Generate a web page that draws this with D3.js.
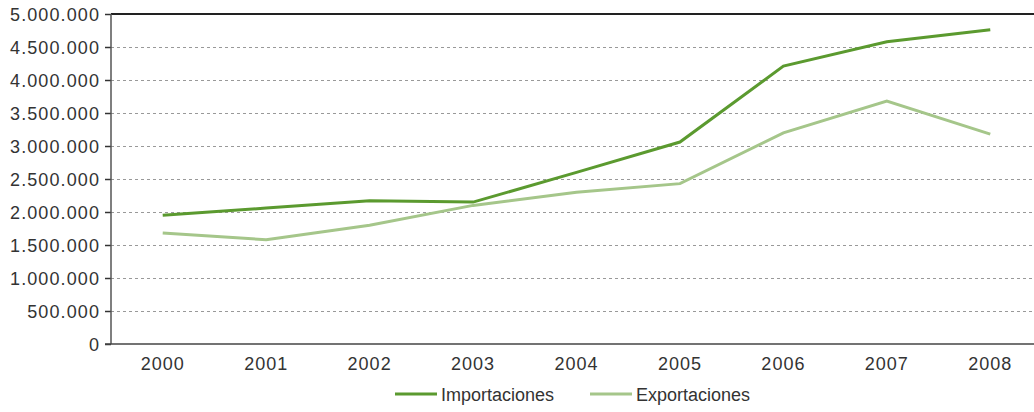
<!DOCTYPE html>
<html><head><meta charset="utf-8">
<script src="https://cdn.jsdelivr.net/npm/d3@7"></script>
<style>
body{margin:0;background:#fff;}
text{font-family:"Liberation Sans",Arial,sans-serif;fill:#333;}
</style></head>
<body><svg id="c" width="1034" height="412"></svg>
<script>
const years = ["2000","2001","2002","2003","2004","2005","2006","2007","2008"];
const importaciones = [1950000,2060000,2170000,2150000,2600000,3060000,4210000,4580000,4760000];
const exportaciones = [1680000,1580000,1800000,2100000,2300000,2430000,3200000,3680000,3180000];
const yTicks = [0,500000,1000000,1500000,2000000,2500000,3000000,3500000,4000000,4500000,5000000];
const seriesNames = ["Importaciones","Exportaciones"];
const colors = ["#5b9a2f","#a5c68a"];

const svg = d3.select("#c");
const L = 111, R = 1042, T = 14, B = 344;
const x = d3.scaleBand().domain(years).range([L, R]);
const y = d3.scaleLinear().domain([0, 5000000]).range([B, T]);
const fmt = v => d3.format(",")(v).replace(/,/g, ".");

// gridlines
svg.append("g").selectAll("line").data(yTicks.filter(d => d > 0 && d < 5000000)).join("line")
  .attr("x1", L).attr("x2", 1034).attr("y1", d => y(d) + 0.5).attr("y2", d => y(d) + 0.5)
  .attr("stroke", "#999").attr("stroke-width", 1).attr("stroke-dasharray", "3,3");
// top line
svg.append("line").attr("x1", L).attr("x2", 1034).attr("y1", y(5000000)).attr("y2", y(5000000))
  .attr("stroke", "#222").attr("stroke-width", 2);

// y axis
const ya = svg.append("g").attr("transform", `translate(${L},0)`)
  .call(d3.axisLeft(y).tickValues(yTicks).tickFormat(fmt).tickSize(6).tickPadding(5));
ya.select(".domain").remove();
ya.selectAll(".tick line").attr("stroke", "#333").attr("stroke-width", 1.5);
ya.selectAll("text").style("font-size", "18px").style("letter-spacing", "1.1px").attr("fill", "#333")
  .attr("font-family", null).attr("dy", "0.36em");
svg.append("line").attr("x1", L).attr("x2", L).attr("y1", T).attr("y2", B)
  .attr("stroke", "#555").attr("stroke-width", 1.5);

// x axis
const xa = svg.append("g").attr("transform", `translate(0,${B})`)
  .call(d3.axisBottom(x).tickSize(0).tickPadding(13));
xa.select(".domain").remove();
xa.selectAll("text").style("font-size", "18px").style("letter-spacing", "1px").attr("fill", "#333")
  .attr("font-family", null);
svg.append("line").attr("x1", 105).attr("x2", 1034).attr("y1", B).attr("y2", B)
  .attr("stroke", "#444").attr("stroke-width", 1.5);

// lines
const line = d3.line().x((d, i) => x(years[i]) + x.bandwidth() / 2).y(d => y(d));
[importaciones, exportaciones].forEach((s, i) => {
  svg.append("path").datum(s).attr("d", line).attr("fill", "none")
    .attr("stroke", colors[i]).attr("stroke-width", 3);
});

// legend
const lg = [{x: 395}, {x: 590}];
lg.forEach((p, i) => {
  svg.append("line").attr("x1", p.x).attr("x2", p.x + 42).attr("y1", 394).attr("y2", 394)
    .attr("stroke", colors[i]).attr("stroke-width", 3);
  svg.append("text").attr("x", p.x + 46).attr("y", 401).style("font-size", "18px")
    .text(seriesNames[i]);
});
</script></body></html>
